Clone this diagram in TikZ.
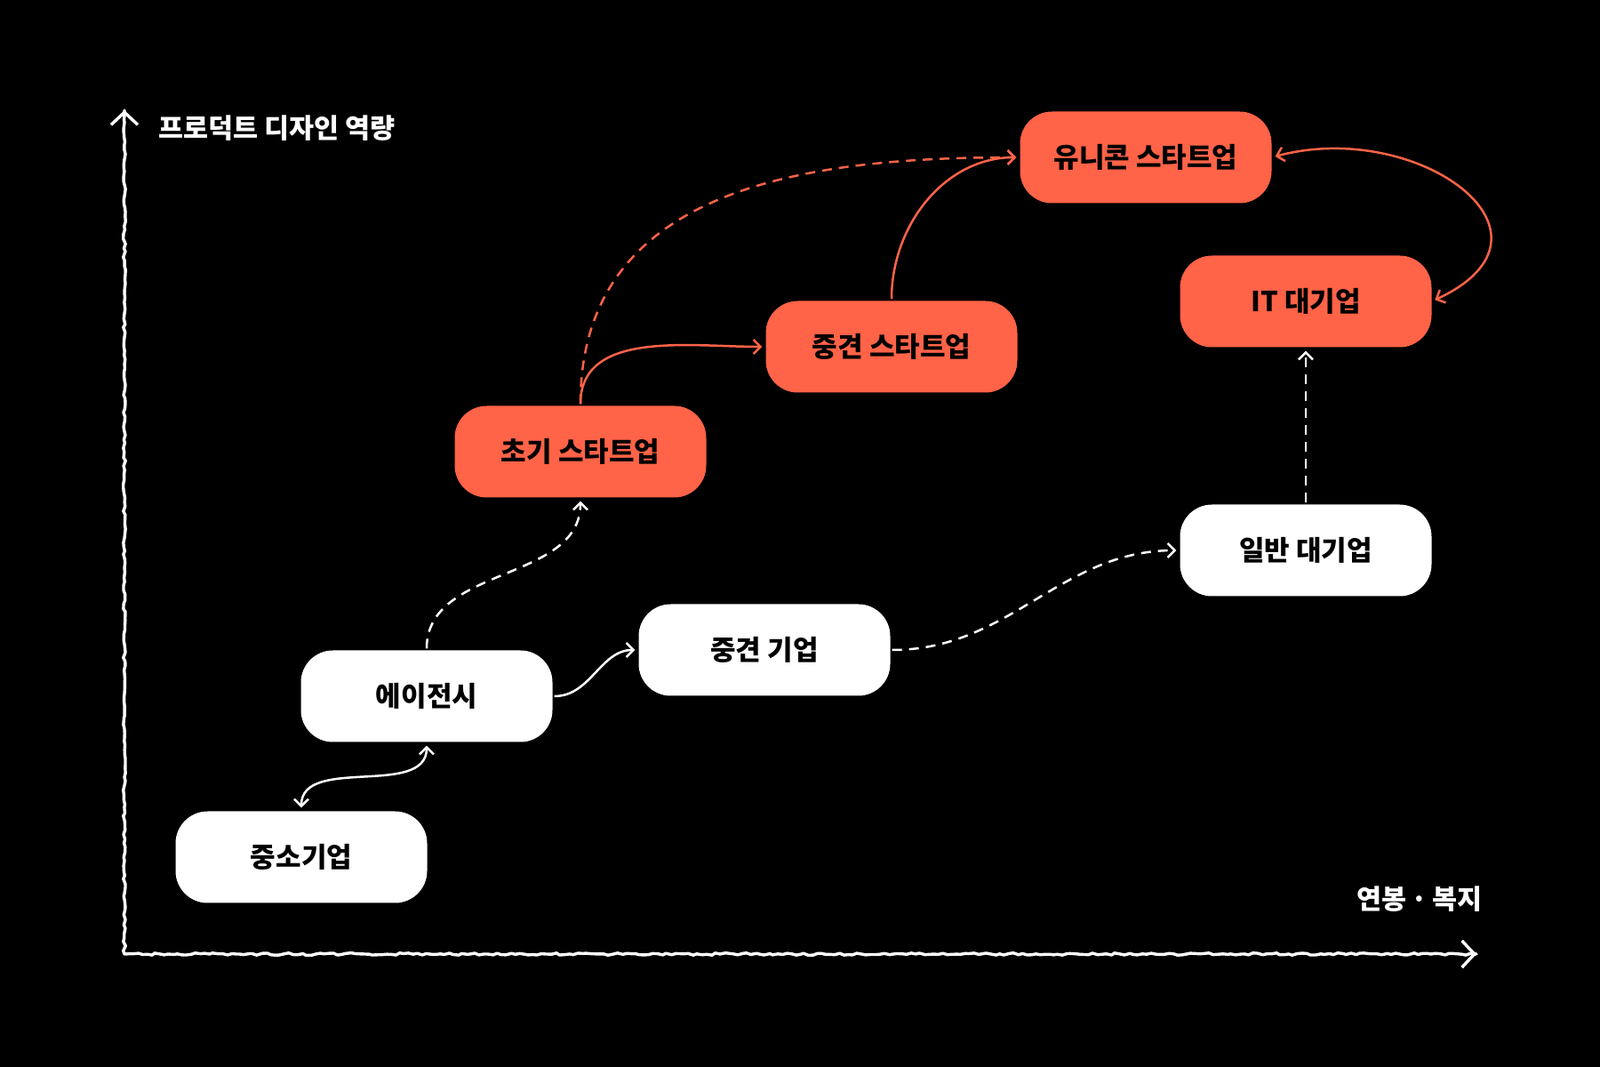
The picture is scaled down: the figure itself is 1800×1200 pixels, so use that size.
\documentclass[tikz,border=0pt]{standalone}
\usepackage{fontspec}
\setmainfont{Noto Sans CJK KR}
\usetikzlibrary{positioning,arrows.meta,decorations.pathmorphing,calc}
\definecolor{coral}{RGB}{255,99,72}

\begin{document}
\begin{tikzpicture}[x=1pt, y=1pt, >={Straight Barb[length=8pt,width=16pt]}]
      \tikzset{
	  stage/.style={rectangle, rounded corners=36pt, minimum width=283pt, minimum height=103pt, inner sep=0pt, text=black, font=\fontsize{31}{36}\selectfont\bfseries},
	  hot/.style={stage, fill=coral},
	  cold/.style={stage, fill=white},
	  link/.style={draw, line width=2.5pt, ->, shorten <=2pt, shorten >=4pt},
	  both/.style={link, <->, shorten <=4pt},
	  dashlink/.style={link, dash pattern=on 11pt off 8pt},
	  axis/.style={white, line width=3.4pt, line cap=round, line join=round},
	  axislabel/.style={text=white, inner sep=0pt, font=\fontsize{30.5}{36}\selectfont\bfseries},
      }
      \fill [black] (0,0) rectangle (1800,1200);
      \useasboundingbox (0,0) rectangle (1800,1200);

      % axes
      \coordinate (o) at (140,127);
      \coordinate (ytip) at (140,1076);
      \coordinate (xtip) at (1661,127);
      \draw [axis, decorate, decoration={random steps, segment length=5pt, amplitude=1.3pt}] (ytip) -- (o) -- (xtip);
      \draw [axis, -{Straight Barb[length=14pt,width=30pt]}] ($(ytip)+(0,-2)$) -- (ytip);
      \draw [axis, -{Straight Barb[length=14pt,width=30pt]}] ($(xtip)+(-2,0)$) -- (xtip);
      \node (ylabel) at (178,1056) [axislabel, anchor=west] {프로덕트 디자인 역량};
      \node (xlabel) at (1668,189) [axislabel, anchor=east] {연봉\,·\,복지};

      % stages
      \node (uni) at (1289,1023) [hot] {유니콘 스타트업};
      \node (itbig) at (1469,861) [hot] {IT 대기업};
      \node (midstart) at (1003,810) [hot] {중견 스타트업};
      \node (early) at (653,692) [hot] {초기 스타트업};
      \node (big) at (1469,581) [cold] {일반 대기업};
      \node (mid) at (860,469) [cold] {중견 기업};
      \node (agency) at (480,417) [cold] {에이전시};
      \node (sme) at (339,236) [cold] {중소기업};

      % white moves
      \path [white, out=90, in=-90] (sme.north) edge [both] (agency.south);
      \path [white, out=0, in=180] (agency.east) edge [link] (mid.west);
      \path [white, out=90, in=-90] (agency.north) edge [dashlink] (early.south);
      \path [white, out=0, in=180] (mid.east) edge [dashlink] (big.west);
      \path [white] (big.north) edge [dashlink] (itbig.south);

      % orange moves
      \path [coral, out=90, in=180] (early.north) edge [link] (midstart.west);
      \path [coral, out=90, in=180, looseness=1.1] (early.north) edge [dashlink] (uni.west);
      \path [coral, out=90, in=180] (midstart.north) edge [link] (uni.west);
      \path [coral, out=15, in=25, out distance=170pt, in distance=180pt] (uni.east) edge [both] (itbig.east);
    \end{tikzpicture}
\end{document}
